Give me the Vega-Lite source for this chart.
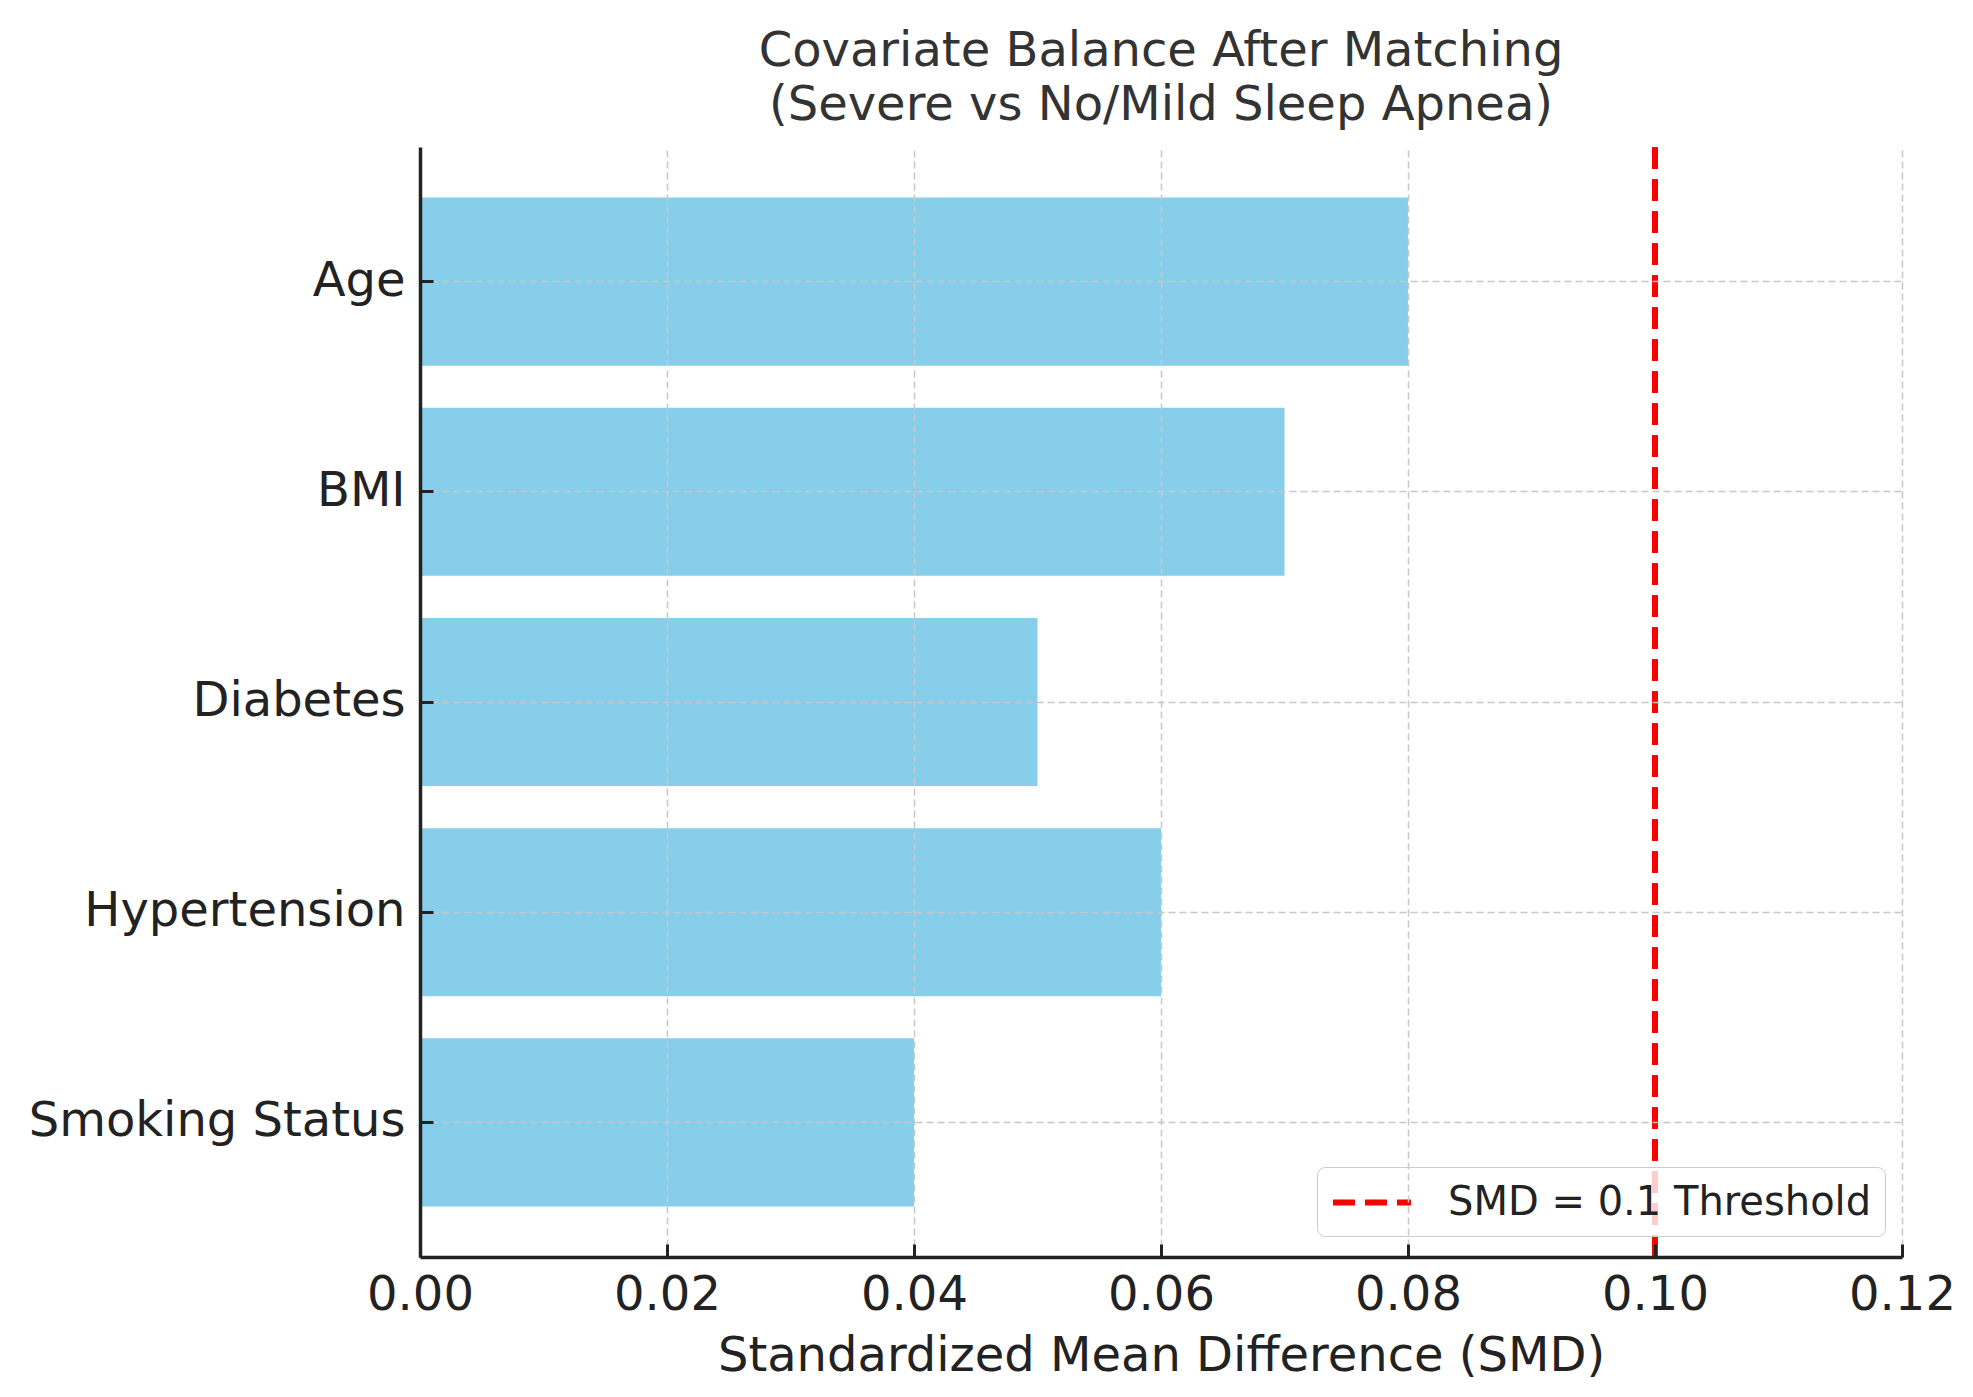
{
  "$schema": "https://vega.github.io/schema/vega-lite/v6.json",
  "width": 1482,
  "height": 1110,
  "autosize": {"type": "none"},
  "padding": {"left": 420, "top": 147, "right": 71, "bottom": 140},
  "background": "white",
  "config": {"view": {"stroke": null}, "font": "DejaVu Sans"},
  "title": {
    "text": ["Covariate Balance After Matching", "(Severe vs No/Mild Sleep Apnea)"],
    "fontSize": 48,
    "font": "DejaVu Sans",
    "fontWeight": "normal",
    "color": "#333333",
    "anchor": "middle",
    "lineHeight": 54,
    "offset": 14
  },
  "layer": [
    {
      "data": {
        "values": [
          {"covariate": "Age", "smd": 0.08},
          {"covariate": "BMI", "smd": 0.07},
          {"covariate": "Diabetes", "smd": 0.05},
          {"covariate": "Hypertension", "smd": 0.06},
          {"covariate": "Smoking Status", "smd": 0.04}
        ]
      },
      "mark": {"type": "bar", "color": "#87CEEB"},
      "encoding": {
        "y": {
          "field": "covariate",
          "type": "nominal",
          "sort": ["Age", "BMI", "Diabetes", "Hypertension", "Smoking Status"],
          "scale": {"paddingInner": 0.2, "paddingOuter": 0.24},
          "axis": {
            "title": null,
            "labelFontSize": 48,
            "labelColor": "#222222",
            "labelPadding": 28,
            "labelLimit": 0,
            "tickSize": -13,
            "tickWidth": 3,
            "tickColor": "#222222",
            "bandPosition": 0.5,
            "domainWidth": 3.5,
            "domainColor": "#222222",
            "grid": true,
            "gridDash": [7, 4],
            "gridColor": "#c8c8c8",
            "gridWidth": 1.5,
            "zindex": 1
          }
        },
        "x": {
          "field": "smd",
          "type": "quantitative",
          "scale": {"domain": [0, 0.12], "nice": false, "zero": true},
          "axis": {
            "title": "Standardized Mean Difference (SMD)",
            "titleFontSize": 48,
            "titleFontWeight": "normal",
            "titleColor": "#222222",
            "titlePadding": 13,
            "values": [0, 0.02, 0.04, 0.06, 0.08, 0.1, 0.12],
            "format": ".2f",
            "labelFontSize": 48,
            "labelColor": "#222222",
            "labelPadding": 27,
            "labelFlush": false,
            "tickSize": -13,
            "tickWidth": 3,
            "tickColor": "#222222",
            "domainWidth": 3.5,
            "domainColor": "#222222",
            "grid": true,
            "gridDash": [7, 4],
            "gridColor": "#c8c8c8",
            "gridOpacity": {"condition": {"test": "datum.value === 0.1", "value": 0}, "value": 1},
            "gridWidth": 1.5,
            "zindex": 1
          }
        }
      }
    },
    {
      "data": {"values": [{"label": "SMD = 0.1 Threshold", "threshold": 0.1}]},
      "mark": {"type": "rule", "strokeDash": [22, 10], "strokeWidth": 6},
      "encoding": {
        "x": {"field": "threshold", "type": "quantitative"},
        "color": {
          "field": "label",
          "type": "nominal",
          "scale": {"range": ["#ff0000"]},
          "legend": {
            "title": null,
            "orient": "none",
            "legendX": 897,
            "legendY": 1020,
            "symbolType": "M-1,0H3",
            "symbolStrokeWidth": 6,
            "symbolDash": [22, 10],
            "symbolSize": 1521,
            "symbolStrokeColor": "#ff0000",
            "labelFontSize": 40,
            "labelColor": "#222222",
            "labelLimit": 0,
            "labelOffset": 73,
            "padding": 13,
            "fillColor": "rgba(255,255,255,0.8)",
            "strokeColor": "#cccccc",
            "cornerRadius": 8
          }
        }
      }
    }
  ]
}
